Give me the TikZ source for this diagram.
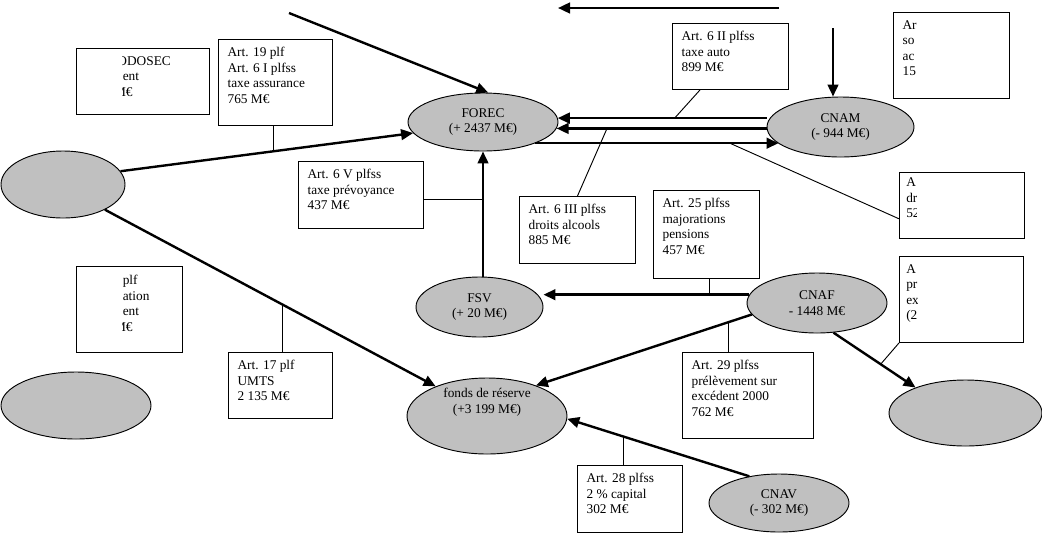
\documentclass[tikz,border=0pt]{standalone}
\usepackage{fontspec}
\setmainfont{Liberation Serif}
\usepackage{tikz}
\usetikzlibrary{positioning, arrows.meta, shapes.geometric}
\definecolor{poolgray}{HTML}{C0C0C0}
\newcommand{\boxfont}{\fontsize{10}{11.6}\selectfont}

\begin{document}
\begin{tikzpicture}[
    x=0.75pt, y=-0.75pt,
    pool/.style 2 args={ellipse, draw, line width=0.7pt, fill=poolgray, minimum width=#1*0.75pt, minimum height=#2*0.75pt, inner sep=1pt, align=center, font=\boxfont},
    box/.style 2 args={draw, line width=0.7pt, fill=white, anchor=north west, minimum width=#1*0.75pt, minimum height=#2*0.75pt, inner sep=0pt},
    txt/.style={anchor=north west, align=left, inner sep=0pt, font=\boxfont},
    boxtext/.style={txt, xshift=7pt, yshift=-6pt},
    arrow/.style={-{Triangle[length=9pt, width=8pt]}, line width=1.8pt},
    link/.style={line width=0.7pt}
]
\useasboundingbox (0,0) rectangle (1042,533);

% funds
\node[pool={124}{67}] (left1) at (63,184.5) {};
\node[pool={150}{67}] (left2) at (76,405.5) {};
\node[pool={150}{58}] (forec) at (483,122) {FOREC\\(+ 2437 M€)};
\node[pool={147}{60}] (cnam) at (840.5,127) {CNAM\\(- 944 M€)};
\node[pool={127}{60}] (fsv) at (479.5,307) {FSV\\(+ 20 M€)};
\node[pool={140}{60}] (cnaf) at (817,303) {CNAF\\- 1448 M€};
\node[pool={160}{76}, label={[font=\boxfont, align=center, yshift=10.5pt]center:{fonds de réserve\\(+3 199 M€)}}] (fonds) at (487,416) {};
\node[pool={153}{66}] (right1) at (965.5,413) {};
\node[pool={140}{58}] (cnav) at (779,503) {CNAV\\(- 302 M€)};

% articles
\node[box={133}{66}] (fodosec) at (76,48) {};
\node[box={114}{86}, label={[boxtext]north west:{Art. 19 plf\\Art. 6 I plfss\\taxe assurance\\765 M€}}] (taxeass) at (218,39) {};
\node[box={116}{66}, label={[boxtext]north west:{Art. 6 II plfss\\taxe auto\\899 M€}}] (taxeauto) at (672,23) {};
\node[box={116}{86}, label={[boxtext]north west:{Ar\\so\\ac\\15}}] (topright) at (893,12) {};
\node[box={125}{67}, label={[boxtext]north west:{Art. 6 V plfss\\taxe prévoyance\\437 M€}}] (prevoy) at (298,161) {};
\node[box={116}{67}, label={[boxtext]north west:{Art. 6 III plfss\\droits alcools\\885 M€}}] (alcools) at (519,196) {};
\node[box={106}{88}, label={[boxtext]north west:{Art. 25 plfss\\majorations\\pensions\\457 M€}}] (majo) at (653,190) {};
\node[box={125}{66}] (right1box) at (899,172) {};
\node[box={124}{86}] (right2box) at (899,256) {};
\node[box={106}{86}] (left2box) at (76,266) {};
\node[box={104}{66}, label={[boxtext]north west:{Art. 17 plf\\UMTS\\2 135 M€}}] (umts) at (228,352) {};
\node[box={131}{86}, label={[boxtext]north west:{Art. 29 plfss\\prélèvement sur\\excédent 2000\\762 M€}}] (excedent) at (682,352) {};
\node[box={105}{67}, label={[boxtext]north west:{Art. 28 plfss\\2 \% capital\\302 M€}}] (capital) at (577,465) {};

% cut texts
\begin{scope}
\clip ([xshift=34.9pt]fodosec.north west) rectangle (fodosec.south east);
\node[txt] (fodosectext) at ([xshift=34.9pt, yshift=-6pt]fodosec.north west) {\hspace*{-4pt}ODOSEC\\ent\\\hspace*{-6.5pt}M€};
\end{scope}
\begin{scope}
\clip ([xshift=34.9pt]left2box.north west) rectangle (left2box.south east);
\node[txt] (left2text) at ([xshift=34.9pt, yshift=-7pt]left2box.north west) {plf\\ation\\ent\\\hspace*{-6.5pt}M€};
\end{scope}
\begin{scope}
\clip (right1box.north west) rectangle ([xshift=12.75pt]right1box.south west);
\node[txt] (right1text) at ([xshift=5.25pt, yshift=-4.3pt]right1box.north west) {A\\dr\\52};
\end{scope}
\begin{scope}
\clip (right2box.north west) rectangle ([xshift=13.5pt]right2box.south west);
\node[txt] (right2text) at ([xshift=5.25pt, yshift=-6pt]right2box.north west) {A\\pr\\ex\\(2};
\end{scope}

% flows
\coordinate (topin) at (289,13);
\coordinate (topstart) at (779,8);
\coordinate (topend) at (558,8);
\coordinate (cnamin) at (833,28);
\draw[arrow] (topin) -- (forec.80);
\draw[arrow] (topstart) -- (topend);
\draw[arrow] (cnamin) -- (cnamin |- cnam.north);
\draw[arrow] (forec.3 -| cnam.west) -- coordinate[pos=0.44] (autolink) (forec.3);
\draw[arrow] (forec.-5 -| cnam.west) -- coordinate[pos=0.76] (alcoolslink) (forec.-5);
\draw[arrow] (forec.-22) -- coordinate[pos=0.8] (sanslink) (forec.-22 -| cnam.-165);
\draw[arrow] (left1.13) -- coordinate[pos=0.523] (asslink) (forec.189);
\draw[arrow] (left1.-31) -- coordinate[pos=0.538] (umtslink) (fonds.150);
\draw[arrow] (forec.south |- fsv.north) -- (forec.south);
\draw[arrow] (cnaf.173) -- coordinate[pos=0.193] (majolink) (cnaf.173 -| fsv.east);
\draw[arrow] (cnaf.190) -- coordinate[pos=0.107] (excedentlink) (fonds.32);
\draw[arrow] (cnaf.-61) -- coordinate[pos=0.575] (right2link) (right1.153);
\draw[arrow] (cnav.138) -- coordinate[pos=0.689] (capitallink) (fonds.-2);

% article links
\draw[link] (asslink |- taxeass.south) -- (asslink);
\draw[link] (autolink) -- ([xshift=21pt]taxeauto.south west);
\draw[link] (alcoolslink) -- (alcools.north);
\draw[link] (sanslink) -- ([yshift=-10pt]right1box.west);
\draw[link] ([yshift=-3pt]prevoy.east) -- ([yshift=-3pt]prevoy.east -| forec.south);
\draw[link] (majolink |- majo.south) -- (majolink);
\draw[link] (umtslink |- umts.north) -- (umtslink);
\draw[link] (excedentlink |- excedent.north) -- (excedentlink);
\draw[link] (capitallink |- capital.north) -- (capitallink);
\draw[link] (right2box.south west) -- (right2link);
\end{tikzpicture}
\end{document}
